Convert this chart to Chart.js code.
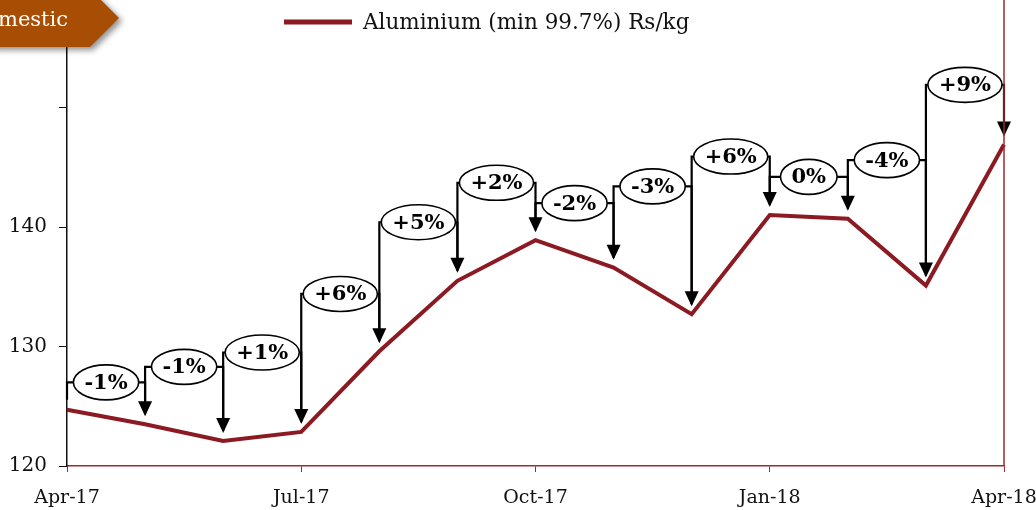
<!DOCTYPE html>
<html>
<head>
<meta charset="utf-8">
<script src="https://cdn.jsdelivr.net/npm/chart.js@4.4.1/dist/chart.umd.min.js"></script>
<style>
  html, body { margin: 0; padding: 0; background: #fff; }
  #wrap { position: relative; width: 1036px; height: 510px; }
</style>
</head>
<body>
<div id="wrap"><canvas id="myChart" width="1036" height="510"></canvas></div>
<script>
// data
const months = ['Apr-17', 'May-17', 'Jun-17', 'Jul-17', 'Aug-17', 'Sep-17', 'Oct-17',
                'Nov-17', 'Dec-17', 'Jan-18', 'Feb-18', 'Mar-18', 'Apr-18'];
const prices = [124.7, 123.5, 122.1, 122.85, 129.6, 135.5, 138.9, 136.6, 132.7, 141.0, 140.7, 135.1, 146.9];
const changeLabels = ['-1%', '-1%', '+1%', '+6%', '+5%', '+2%', '-2%', '-3%', '+6%', '0%', '-4%', '+9%'];
// height (in Rs/kg) at which each change bubble sits
const labelLevels = [127.0, 128.3, 129.5, 134.4, 140.4, 143.7, 142.0, 143.4, 145.9, 144.2, 145.6, 151.9];
const yTicks = [120, 130, 140, 150];
const yTickLabels = ['120', '130', '140', ''];
const seriesName = 'Aluminium (min 99.7%) Rs/kg';
const tagText = 'Domestic';

const lineRed = '#8B1A22';
const axisRed = '#9E2A2B';
const serif = '"DejaVu Serif", Georgia, serif';

// bubbles + arrows, legend and the orange tag
const extras = {
    id: 'extras',
    afterDatasetsDraw(chart) {
        const ctx = chart.ctx;
        const xs = chart.scales.x, ys = chart.scales.y;
        ctx.save();
        ctx.font = 'bold 21px ' + serif;
        for (let i = 1; i < prices.length; i++) {
            const x0 = xs.getPixelForValue(i - 1);
            const x1 = xs.getPixelForValue(i);
            const yL = ys.getPixelForValue(labelLevels[i - 1]);
            const yPrev = ys.getPixelForValue(prices[i - 1]) - 10;
            const yTip = ys.getPixelForValue(prices[i]) - 8;
            const tw = ctx.measureText(changeLabels[i - 1]).width;
            const w = Math.min(x1 - x0 - 2, tw + 22);
            const cx = (x0 + x1) / 2;
            ctx.strokeStyle = '#000';
            ctx.lineWidth = 2.2;
            ctx.beginPath();
            // left stub
            ctx.moveTo(x0, Math.max(yPrev, yL));
            ctx.lineTo(x0, yL);
            ctx.lineTo(cx - w / 2, yL);
            ctx.moveTo(cx + w / 2, yL);
            ctx.lineTo(x1, yL);
            ctx.lineTo(x1, yTip - 14);
            ctx.stroke();
            // arrow head
            ctx.fillStyle = '#000';
            ctx.beginPath();
            ctx.moveTo(x1 - 7, yTip - 15);
            ctx.lineTo(x1 + 7, yTip - 15);
            ctx.lineTo(x1, yTip);
            ctx.closePath();
            ctx.fill();
            // bubble
            ctx.beginPath();
            ctx.ellipse(cx, yL, w / 2, 17.5, 0, 0, Math.PI * 2);
            ctx.fillStyle = '#fff';
            ctx.fill();
            ctx.lineWidth = 1.6;
            ctx.stroke();
            ctx.fillStyle = '#000';
            ctx.textAlign = 'center';
            ctx.textBaseline = 'middle';
            ctx.fillText(changeLabels[i - 1], cx, yL + 1);
        }
        ctx.restore();

        // right border of the plot
        const a = chart.chartArea;
        ctx.save();
        ctx.strokeStyle = axisRed;
        ctx.lineWidth = 1.5;
        ctx.beginPath();
        ctx.moveTo(a.right, 0);
        ctx.lineTo(a.right, a.bottom);
        ctx.stroke();

        // legend
        ctx.strokeStyle = lineRed;
        ctx.lineWidth = 5;
        ctx.beginPath();
        ctx.moveTo(284, 22);
        ctx.lineTo(352, 22);
        ctx.stroke();
        ctx.fillStyle = '#111';
        ctx.font = '21.5px ' + serif;
        ctx.textAlign = 'left';
        ctx.textBaseline = 'middle';
        ctx.fillText(seriesName, 363, 23);

        // orange tag, cut by the left edge
        ctx.shadowColor = 'rgba(0,0,0,0.45)';
        ctx.shadowBlur = 6;
        ctx.shadowOffsetX = 3;
        ctx.shadowOffsetY = 3;
        ctx.fillStyle = '#A84E04';
        ctx.beginPath();
        ctx.moveTo(-10, -11);
        ctx.lineTo(90, -11);
        ctx.lineTo(119, 18);
        ctx.lineTo(90, 47);
        ctx.lineTo(-10, 47);
        ctx.closePath();
        ctx.fill();
        ctx.shadowColor = 'transparent';
        ctx.fillStyle = '#fff';
        ctx.font = '21px ' + serif;
        ctx.textAlign = 'right';
        ctx.fillText(tagText, 68, 21);
        ctx.restore();
    }
};

new Chart(document.getElementById('myChart').getContext('2d'), {
    type: 'line',
    data: {
        labels: months,
        datasets: [{
            label: seriesName,
            data: prices,
            borderColor: lineRed,
            borderWidth: 4,
            pointRadius: 0,
            tension: 0,
            clip: false
        }]
    },
    options: {
        responsive: false,
        animation: false,
        devicePixelRatio: 1,
        layout: { padding: { top: 0, right: 32, left: 0, bottom: 0 } },
        plugins: { legend: { display: false }, tooltip: { enabled: false } },
        scales: {
            x: {
                offset: false,
                afterFit: s => { s.height = 44; s.paddingLeft = 0; s.paddingRight = 0; },
                border: { color: axisRed, width: 1.5 },
                grid: {
                    drawOnChartArea: false,
                    tickLength: 6,
                    color: c => (c.index % 3 === 0 ? axisRed : 'rgba(0,0,0,0)')
                },
                ticks: {
                    autoSkip: false,
                    maxRotation: 0,
                    padding: 15,
                    color: '#111',
                    font: { family: serif, size: 19 },
                    callback: (v, i) => (i % 3 === 0 ? months[i] : '')
                }
            },
            y: {
                min: 120,
                max: 159,
                afterFit: s => { s.width = 67; s.paddingTop = 0; s.paddingBottom = 0; },
                afterBuildTicks: s => { s.ticks = yTicks.map(v => ({ value: v })); },
                border: { color: '#111', width: 1.5 },
                grid: { drawOnChartArea: false, tickLength: 8, color: '#111' },
                ticks: {
                    padding: 12,
                    color: '#111',
                    font: { family: serif, size: 20 },
                    callback: v => yTickLabels[yTicks.indexOf(v)]
                }
            }
        }
    },
    plugins: [extras]
});
</script>
</body>
</html>
